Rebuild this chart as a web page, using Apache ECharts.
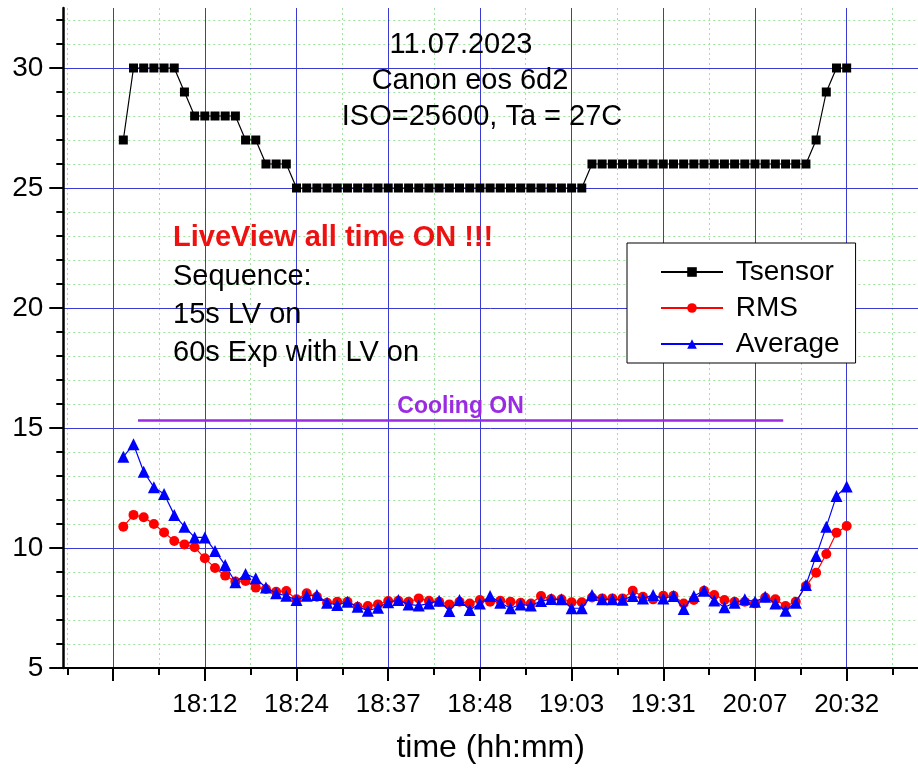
<!DOCTYPE html>
<html>
<head>
<meta charset="utf-8">
<script src="https://cdn.jsdelivr.net/npm/echarts@6/dist/echarts.min.js"></script>
<style>
  html, body { margin: 0; padding: 0; background: #ffffff; }
  #chart { width: 918px; height: 769px; }
</style>
</head>
<body>
<div id="chart"></div>
<script>
// Sensor temperature (C), one sample per exposure
const tsensor = [
  27, 30, 30, 30, 30, 30, 29, 28, 28, 28, 28, 28, 27, 27, 26, 26, 26,
  25, 25, 25, 25, 25, 25, 25, 25, 25, 25, 25, 25, 25, 25, 25, 25, 25, 25, 25,
  25, 25, 25, 25, 25, 25, 25, 25, 25, 25,
  26, 26, 26, 26, 26, 26, 26, 26, 26, 26, 26, 26, 26, 26, 26, 26, 26, 26, 26, 26, 26, 26,
  27, 29, 30, 30
];

// Dark frame noise, RMS (ADU)
const rms = [
  10.89, 11.38, 11.28, 11.00, 10.65, 10.29, 10.15, 10.03, 9.57, 9.17,
  8.85, 8.60, 8.63, 8.35, 8.29, 8.18, 8.21, 7.86, 8.11, 7.97,
  7.72, 7.76, 7.76, 7.55, 7.58, 7.65, 7.79, 7.80, 7.76, 7.90,
  7.80, 7.76, 7.65, 7.76, 7.69, 7.83, 7.76, 7.80, 7.76, 7.72,
  7.69, 8.00, 7.87, 7.86, 7.74, 7.74, 7.94, 7.90, 7.90, 7.90,
  8.22, 7.97, 7.86, 8.01, 8.01, 7.69, 7.83, 8.22, 8.04, 7.83,
  7.76, 7.76, 7.69, 7.94, 7.86, 7.58, 7.76, 8.42, 8.97, 9.75,
  10.64, 10.92
];

// Dark frame noise, average (ADU)
const average = [
  13.80, 14.32, 13.18, 12.53, 12.25, 11.38, 10.89, 10.44, 10.44, 9.88,
  9.29, 8.57, 8.92, 8.74, 8.35, 8.11, 8.01, 7.83, 8.01, 8.04,
  7.72, 7.63, 7.76, 7.55, 7.39, 7.51, 7.74, 7.83, 7.65, 7.60,
  7.69, 7.80, 7.38, 7.83, 7.42, 7.69, 8.00, 7.72, 7.49, 7.65,
  7.60, 7.79, 7.87, 7.86, 7.49, 7.49, 8.04, 7.86, 7.86, 7.84,
  8.00, 7.90, 8.04, 7.90, 8.00, 7.46, 8.00, 8.22, 7.81, 7.53,
  7.72, 7.86, 7.76, 7.97, 7.69, 7.39, 7.72, 8.46, 9.67, 10.89,
  12.17, 12.56
];

// Clock time printed under every ninth sample
const timeLabels = ['18:12', '18:24', '18:37', '18:48', '19:03', '19:31', '20:07', '20:32'];
const labelSamples = [8, 17, 26, 35, 44, 53, 62, 71];

// Y axis tick labels
const yTickLabels = [5, 10, 15, 20, 25, 30];

// Period with the cooler running (sample index range, level on the y scale)
const coolingSpan = [1.44, 64.77];
const coolingLevel = 15.33;

// The x scale starts at 0 on the left border; sample i sits at i + X_SHIFT
const X_SHIFT = 5.89;
const X_MIN = 0, X_MAX = 78.0 + X_SHIFT;
const Y_MIN = 5, Y_MAX = 32.5;

const xLabelPos = labelSamples.map(s => s + X_SHIFT);
const xMajor = [labelSamples[0] - 9].concat(labelSamples).map(s => s + X_SHIFT);
const xMinor = xMajor.map(v => v - 4.5).concat([xMajor[xMajor.length - 1] + 4.5]);
const yMinor = [];
for (let v = 6; v <= 32; v++) if (v % 5 !== 0) yMinor.push(v);

const toPairs = arr => arr.map((v, i) => [i + X_SHIFT, v]);

const FONT = '"Liberation Sans", Arial, sans-serif';
const MAJOR_GRID = '#3a3ad0';
const MINOR_GRID = '#9fe39f';
const PURPLE = '#9a2be2';

const chart = echarts.init(document.getElementById('chart'), null, { renderer: 'canvas' });

chart.setOption({
  backgroundColor: '#ffffff',
  animation: false,
  grid: { left: 63.3, right: 0, top: 8, bottom: 101, containLabel: false },
  xAxis: [
    {
      type: 'value', min: X_MIN, max: X_MAX, position: 'bottom', z: 3,
      axisLine: { show: true, onZero: false, lineStyle: { color: '#000', width: 2 } },
      axisTick: { show: true, customValues: xMajor, length: 13, lineStyle: { color: '#000', width: 2 } },
      axisLabel: {
        show: true, customValues: xLabelPos, margin: 24,
        formatter: v => timeLabels[labelSamples.indexOf(Math.round(v - X_SHIFT))] || '',
        color: '#000', fontSize: 26, fontFamily: FONT, lineHeight: 26
      },
      splitLine: { show: true, lineStyle: { color: MAJOR_GRID, width: 1 } },
      name: 'time (hh:mm)', nameLocation: 'middle', nameGap: 64,
      nameTextStyle: { color: '#000', fontSize: 32, fontFamily: FONT }
    },
    {
      type: 'value', min: X_MIN, max: X_MAX, position: 'bottom', offset: 0, z: 2,
      axisLine: { show: false, onZero: false },
      axisTick: { show: true, customValues: xMinor, length: 7, lineStyle: { color: '#000', width: 2 } },
      axisLabel: { show: false },
      splitLine: { show: true, lineStyle: { color: MINOR_GRID, width: 1, type: [2, 3] } }
    }
  ],
  yAxis: [
    {
      type: 'value', min: Y_MIN, max: Y_MAX, position: 'left', z: 3,
      axisLine: { show: true, onZero: false, lineStyle: { color: '#000', width: 2.5 } },
      axisTick: { show: true, customValues: yTickLabels, length: 14, lineStyle: { color: '#000', width: 2 } },
      axisLabel: { show: true, customValues: yTickLabels, margin: 20, color: '#000', fontSize: 28, fontFamily: FONT },
      splitLine: { show: true, lineStyle: { color: MAJOR_GRID, width: 1 } }
    },
    {
      // short ticks at every unit, sitting on the x = 0 border
      type: 'value', min: Y_MIN, max: Y_MAX, position: 'left', z: 2,
      axisLine: { show: false, onZero: true },
      axisTick: { show: true, customValues: yMinor, length: 7, lineStyle: { color: '#000', width: 2 } },
      axisLabel: { show: false },
      splitLine: { show: true, lineStyle: { color: MINOR_GRID, width: 1, type: [2, 3] } }
    }
  ],
  legend: {
    orient: 'vertical', left: 627, top: 243,
    padding: [15, 16, 5, 33], itemGap: 8, itemWidth: 62, itemHeight: 12,
    borderColor: '#000', borderWidth: 1, borderRadius: 0, backgroundColor: '#fff',
    formatter: n => ' ' + n,
    textStyle: { color: '#000', fontSize: 28, fontFamily: FONT, lineHeight: 28 },
    data: ['Tsensor', 'RMS', 'Average']
  },
  graphic: [
    { type: 'text', x: 461, y: 45, z: 10, style: { text: '11.07.2023', fill: '#000', font: '29px ' + FONT, align: 'center', verticalAlign: 'middle' } },
    { type: 'text', x: 470, y: 81, z: 10, style: { text: 'Canon eos 6d2', fill: '#000', font: '29px ' + FONT, align: 'center', verticalAlign: 'middle' } },
    { type: 'text', x: 482, y: 117, z: 10, style: { text: 'ISO=25600, Ta = 27C', fill: '#000', font: '29px ' + FONT, align: 'center', verticalAlign: 'middle' } },
    { type: 'text', x: 173, y: 238, z: 10, style: { text: 'LiveView all time ON !!!', fill: '#ee1111', font: 'bold 29px ' + FONT, verticalAlign: 'middle' } },
    { type: 'text', x: 173, y: 277, z: 10, style: { text: 'Sequence:', fill: '#000', font: '29px ' + FONT, verticalAlign: 'middle' } },
    { type: 'text', x: 173, y: 315, z: 10, style: { text: '15s LV on', fill: '#000', font: '29px ' + FONT, verticalAlign: 'middle' } },
    { type: 'text', x: 173, y: 353, z: 10, style: { text: '60s Exp with LV on', fill: '#000', font: '29px ' + FONT, verticalAlign: 'middle' } }
  ],
  series: [
    {
      name: 'Tsensor', type: 'line', data: toPairs(tsensor), z: 4,
      symbol: 'rect', symbolSize: 9,
      itemStyle: { color: '#000' }, lineStyle: { color: '#000', width: 1.2 },
      markLine: {
        silent: true, symbol: 'none', z: 3,
        lineStyle: { color: PURPLE, width: 2.5, type: 'solid' },
        label: { show: true, position: 'middle', formatter: 'Cooling ON', color: PURPLE, fontWeight: 'bold', fontSize: 23, fontFamily: FONT, distance: 2 },
        data: [[
          { coord: [coolingSpan[0] + X_SHIFT, coolingLevel] },
          { coord: [coolingSpan[1] + X_SHIFT, coolingLevel] }
        ]]
      }
    },
    {
      name: 'RMS', type: 'line', data: toPairs(rms), z: 5,
      symbol: 'circle', symbolSize: 10,
      itemStyle: { color: '#ff0000' }, lineStyle: { color: '#ff0000', width: 1.2 }
    },
    {
      name: 'Average', type: 'line', data: toPairs(average), z: 6,
      symbol: 'triangle', symbolSize: 12,
      itemStyle: { color: '#0000ff' }, lineStyle: { color: '#0000ff', width: 1.2 }
    }
  ]
});
</script>
</body>
</html>
